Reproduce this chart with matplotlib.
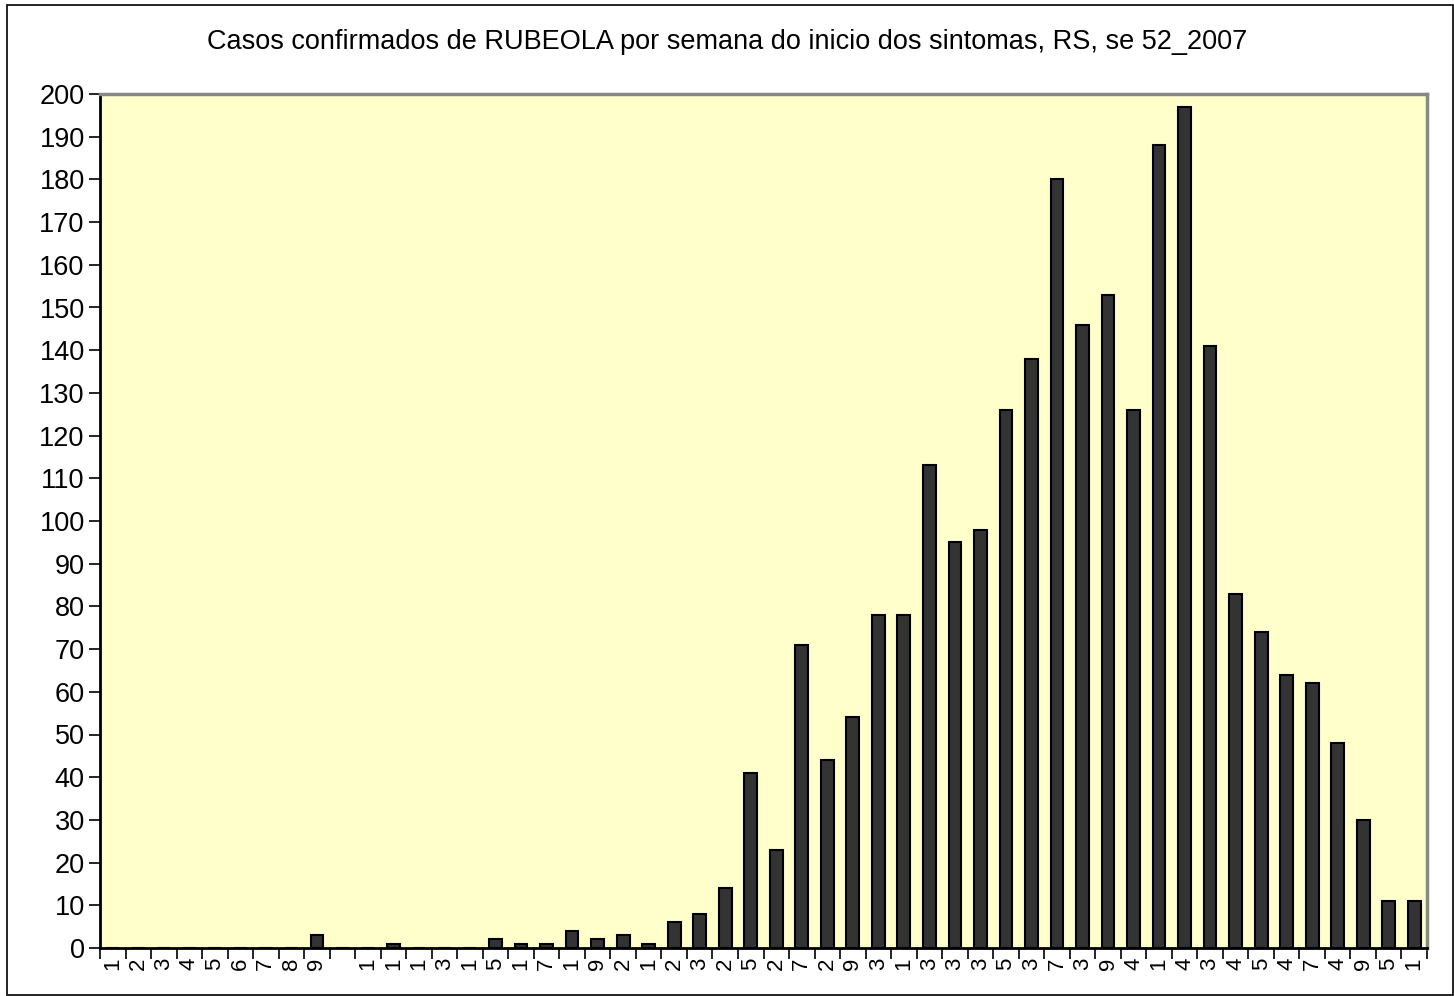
import matplotlib.pyplot as plt
from matplotlib.patches import Rectangle
import numpy as np

plt.rcParams['font.family'] = ['Liberation Sans', 'DejaVu Sans']

semanas = list(range(1, 53))
casos = [0, 0, 0, 0, 0, 0, 0, 0, 3, 0, 0, 1, 0, 0, 0, 2, 1, 1, 4, 2,
         3, 1, 6, 8, 14, 41, 23, 71, 44, 54, 78, 78, 113, 95, 98, 126, 138, 180, 146, 153,
         126, 188, 197, 141, 83, 74, 64, 62, 48, 30, 11, 11]
# rotulos como aparecem (cortados) no grafico original
rotulos = ['1', '2', '3', '4', '5', '6', '7', '8', '9', '',
           '1', '1', '1', '3', '1', '5', '1', '7', '1', '9',
           '2', '1', '2', '3', '2', '5', '2', '7', '2', '9',
           '3', '1', '3', '3', '3', '5', '3', '7', '3', '9',
           '4', '1', '4', '3', '4', '5', '4', '7', '4', '9',
           '5', '1']
titulo = "Casos confirmados de RUBEOLA por semana do inicio dos sintomas, RS, se 52_2007"

fig = plt.figure(figsize=(14.54, 9.96), dpi=100)
ax = fig.add_axes([100 / 1454, 1 - 948 / 996, 1327 / 1454, (948 - 94) / 996])
ax.set_facecolor('#FFFFCC')

x = np.arange(len(semanas))
ax.bar(x, casos, width=0.5, color='#333333', edgecolor='black', linewidth=1.5, zorder=3)

ax.set_xlim(-0.5, len(semanas) - 0.5)
ax.set_ylim(0, 200)
ax.set_yticks(range(0, 201, 10))
ax.tick_params(axis='y', labelsize=19.5, length=8, width=1.2, direction='out', pad=3)

ax.set_xticks(x)
ax.set_xticklabels(rotulos, rotation=90, fontsize=16)
ax.tick_params(axis='x', which='major', length=0, pad=7)
ax.set_xticks(np.arange(-0.5, len(semanas), 1), minor=True)
ax.tick_params(axis='x', which='minor', length=8, width=1.2, direction='out')

for lado in ['top', 'right']:
    ax.spines[lado].set_color('#888888')
    ax.spines[lado].set_linewidth(2.5)
for lado in ['left', 'bottom']:
    ax.spines[lado].set_color('black')
    ax.spines[lado].set_linewidth(2)

fig.text(0.5, 1 - 42 / 996, titulo, ha='center', va='center', fontsize=19.5)

fig.patches.append(Rectangle((7 / 1454, 1 / 996), 1446 / 1454, 990 / 996,
                             transform=fig.transFigure, fill=False,
                             edgecolor='black', linewidth=1.2))

fig.savefig('out.png', dpi=100)
